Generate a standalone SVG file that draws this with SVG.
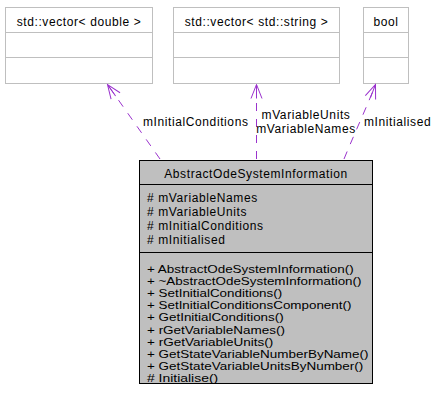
<svg xmlns="http://www.w3.org/2000/svg" width="436" height="408" viewBox="0 0 436 408">
<style>
text{font-family:"Liberation Sans",Arial,sans-serif;font-size:12px;letter-spacing:0.6px;fill:#000}
text.m{font-size:10.8px;letter-spacing:0}
.c{text-anchor:middle}
.ext{fill:#fff;stroke:#bfbfbf;stroke-width:1}
.main{fill:#bfbfbf;stroke:#000;stroke-width:1}
.sep{stroke:#bfbfbf;stroke-width:1}
.msep{stroke:#000;stroke-width:1}
.edge{fill:none;stroke:#9a32cd;stroke-width:1;stroke-dasharray:8,8}
</style>
<defs>
<marker id="vee" markerUnits="userSpaceOnUse" viewBox="-16 -8 17 16" refX="0" refY="0" markerWidth="17" markerHeight="16" orient="auto">
<path d="M-14,-5.5 L0,0 L-14,5.5 M-14,0 L0,0" fill="none" stroke="#9a32cd" stroke-width="1"/>
</marker>
</defs>
<g id="node-vector-double">
<rect class="ext" x="5.5" y="7.5" width="147" height="76"/>
<line class="sep" x1="5.5" y1="32.5" x2="152.5" y2="32.5"/>
<line class="sep" x1="5.5" y1="57.5" x2="152.5" y2="57.5"/>
<text class="c" x="79" y="25.5">std::vector&lt; double &gt;</text>
</g>
<g id="node-vector-string">
<rect class="ext" x="173.5" y="7.5" width="166" height="76"/>
<line class="sep" x1="173.5" y1="32.5" x2="339.5" y2="32.5"/>
<line class="sep" x1="173.5" y1="57.5" x2="339.5" y2="57.5"/>
<text class="c" x="256.5" y="25.5">std::vector&lt; std::string &gt;</text>
</g>
<g id="node-bool">
<rect class="ext" x="363.5" y="7.5" width="45" height="76"/>
<line class="sep" x1="363.5" y1="32.5" x2="408.5" y2="32.5"/>
<line class="sep" x1="363.5" y1="57.5" x2="408.5" y2="57.5"/>
<text class="c" x="386" y="25.5">bool</text>
</g>
<g id="connectors">
<line class="edge" x1="160" y1="159" x2="107.5" y2="84.5" marker-end="url(#vee)"/>
<line class="edge" x1="256.5" y1="159" x2="256.5" y2="84.5" marker-end="url(#vee)"/>
<path class="edge" d="M344,159 C356,130 368,104 375.5,84.5" marker-end="url(#vee)"/>
<text x="143" y="126">mInitialConditions</text>
<text class="c" x="306" y="118.5">mVariableUnits</text>
<text class="c" x="306" y="132.5">mVariableNames</text>
<text x="364" y="126">mInitialised</text>
</g>
<g id="node-AbstractOdeSystemInformation">
<rect class="main" x="139.5" y="160.5" width="233" height="223"/>
<line class="msep" x1="139.5" y1="184.5" x2="372.5" y2="184.5"/>
<line class="msep" x1="139.5" y1="252.5" x2="372.5" y2="252.5"/>
<text class="c" x="256" y="178">AbstractOdeSystemInformation</text>
<text x="147" y="202"># mVariableNames</text>
<text x="147" y="216"># mVariableUnits</text>
<text x="147" y="230"># mInitialConditions</text>
<text x="147" y="244"># mInitialised</text>
<text class="m" x="147" y="273" textLength="206.7" lengthAdjust="spacingAndGlyphs">+ AbstractOdeSystemInformation()</text>
<text class="m" x="147" y="285.1" textLength="214.5" lengthAdjust="spacingAndGlyphs">+ ~AbstractOdeSystemInformation()</text>
<text class="m" x="147" y="297.2" textLength="135.2" lengthAdjust="spacingAndGlyphs">+ SetInitialConditions()</text>
<text class="m" x="147" y="309.3" textLength="204.4" lengthAdjust="spacingAndGlyphs">+ SetInitialConditionsComponent()</text>
<text class="m" x="147" y="321.4" textLength="136.7" lengthAdjust="spacingAndGlyphs">+ GetInitialConditions()</text>
<text class="m" x="147" y="333.5" textLength="138.1" lengthAdjust="spacingAndGlyphs">+ rGetVariableNames()</text>
<text class="m" x="147" y="345.6" textLength="126.2" lengthAdjust="spacingAndGlyphs">+ rGetVariableUnits()</text>
<text class="m" x="147" y="357.7" textLength="221.5" lengthAdjust="spacingAndGlyphs">+ GetStateVariableNumberByName()</text>
<text class="m" x="147" y="369.8" textLength="216.3" lengthAdjust="spacingAndGlyphs">+ GetStateVariableUnitsByNumber()</text>
<text class="m" x="147" y="381.9" textLength="71.2" lengthAdjust="spacingAndGlyphs"># Initialise()</text>
</g>
</svg>
